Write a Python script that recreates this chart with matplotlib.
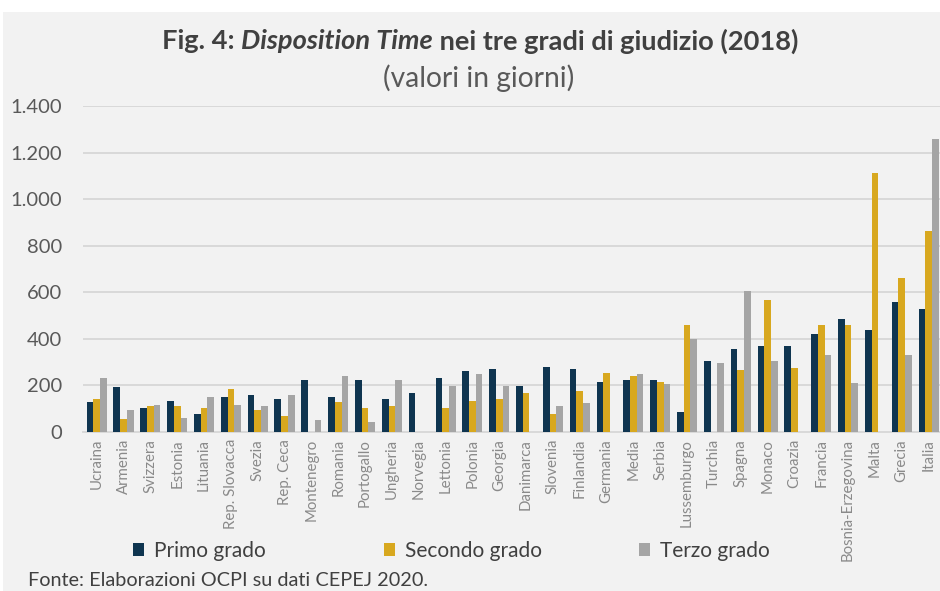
import numpy as np
import matplotlib
matplotlib.use("Agg")
import matplotlib.pyplot as plt
from matplotlib.patches import Rectangle
from matplotlib.ticker import FuncFormatter

countries = ["Ucraina", "Armenia", "Svizzera", "Estonia", "Lituania", "Rep. Slovacca",
             "Svezia", "Rep. Ceca", "Montenegro", "Romania", "Portogallo", "Ungheria",
             "Norvegia", "Lettonia", "Polonia", "Georgia", "Danimarca", "Slovenia",
             "Finlandia", "Germania", "Media", "Serbia", "Lussemburgo", "Turchia",
             "Spagna", "Monaco", "Croazia", "Francia", "Bosnia-Erzegovina", "Malta",
             "Grecia", "Italia"]
primo = [127, 192, 102, 134, 77, 150, 159, 143, 223, 150, 223, 143, 166, 230, 263, 272,
         199, 280, 272, 216, 223, 223, 86, 305, 357, 371, 371, 420, 486, 437, 560, 527]
secondo = [141, 54, 110, 110, 102, 183, 94, 69, None, 127, 102, 110, None, 102, 134, 141,
           166, 77, 175, 255, 239, 215, 460, None, 265, 567, 275, 460, 460, 1114, 663, 864]
terzo = [230, 93, 117, 61, 150, 117, 110, 157, 53, 239, 44, 223, None, 199, 247, 199,
         None, 110, 126, None, 247, 207, 400, 296, 607, 306, None, 331, 209, None, 331, 1260]
series_names = ["Primo grado", "Secondo grado", "Terzo grado"]
yticks = [0, 200, 400, 600, 800, 1000, 1200, 1400]

colors = ["#0f3550", "#d8a81f", "#a5a5a5"]
BG = "#f2f2f2"
FONT = ["Lato", "DejaVu Sans"]
plt.rcParams["font.family"] = FONT

W, H = 940, 591
fig = plt.figure(figsize=(W / 100, H / 100), dpi=100, facecolor=BG)
fig.patches.append(Rectangle((0, 1 - 12 / H), 1, 12 / H, transform=fig.transFigure,
                             facecolor="white", edgecolor="none", zorder=-1))
fig.patches.append(Rectangle((0, 0), 3 / W, 1, transform=fig.transFigure,
                             facecolor="white", edgecolor="none", zorder=-1))

ax_left, ax_right = 83.3, 942.0
ax_top, ax_bottom = 106.0, 432.0
ax = fig.add_axes([ax_left / W, 1 - ax_bottom / H, (ax_right - ax_left) / W,
                   (ax_bottom - ax_top) / H])
ax.set_facecolor(BG)

def to_arr(v):
    return np.array([np.nan if x is None else x for x in v], dtype=float)

x = np.arange(len(countries))
bw = 0.25
bars = []
for k, (vals, c, name) in enumerate(zip([primo, secondo, terzo], colors, series_names)):
    b = ax.bar(x + (k - 1) * bw, to_arr(vals), width=bw, color=c, label=name,
               edgecolor="none", zorder=3)
    bars.append(b)

ax.set_xlim(-0.5, len(countries) - 0.5)
ax.set_ylim(0, 1400)
ax.set_yticks(yticks)
ax.yaxis.set_major_formatter(FuncFormatter(lambda v, p: f"{int(v):,}".replace(",", ".")))
ax.grid(axis="y", color="#d9d9d9", linewidth=1.4, zorder=0)
ax.set_axisbelow(True)
for s in ["top", "right", "left"]:
    ax.spines[s].set_visible(False)
ax.spines["bottom"].set_color("#d9d9d9")
ax.spines["bottom"].set_linewidth(1.4)
ax.tick_params(axis="y", length=0, pad=15, labelsize=14.5, labelcolor="#595959")
ax.tick_params(axis="x", length=0, pad=5, labelsize=10.8, labelcolor="#8a8a8a")
ax.set_xticks(x)
ax.set_xticklabels(countries, rotation=90, va="top", ha="center")

fig.canvas.draw()
r = fig.canvas.get_renderer()

def fit(texts, target):
    w = sum(t.get_window_extent(r).width for t in texts)
    for t in texts:
        t.set_fontsize(t.get_fontsize() * target / w)

# Title with mixed styles
parts = [("Fig. 4: ", "normal"), ("Disposition Time", "italic"),
         (" nei tre gradi di giudizio (2018)", "normal")]
texts = [fig.text(0, 1 - 41 / H, s, fontsize=18, style=st, weight="bold", color="#404040",
                  va="center", ha="left") for s, st in parts]
fit(texts, 640)
widths = [t.get_window_extent(r).width for t in texts]
xpos = 480 - sum(widths) / 2
for t, w in zip(texts, widths):
    t.set_x(xpos / W)
    xpos += w

sub = fig.text(479 / W, 1 - 78 / H, "(valori in giorni)", fontsize=16, color="#595959",
               ha="center", va="center")
fit([sub], 192)

# legend entries, one per series
leg_x = [133, 384, 639]
for b, name, lx in zip(bars, series_names, leg_x):
    fig.legend([b], [name], loc="center left", bbox_to_anchor=(lx / W, 1 - 551 / H),
               frameon=False, fontsize=15, handlelength=0.55, handleheight=0.55,
               handletextpad=0.45, borderaxespad=0, borderpad=0,
               labelcolor="#404040")

src = fig.text(28 / W, 1 - 581 / H, "Fonte: Elaborazioni OCPI su dati CEPEJ 2020.",
               fontsize=12.5, color="#404040", ha="left", va="center")
fit([src], 400)

fig.savefig("out.png", dpi=100, facecolor=BG)
